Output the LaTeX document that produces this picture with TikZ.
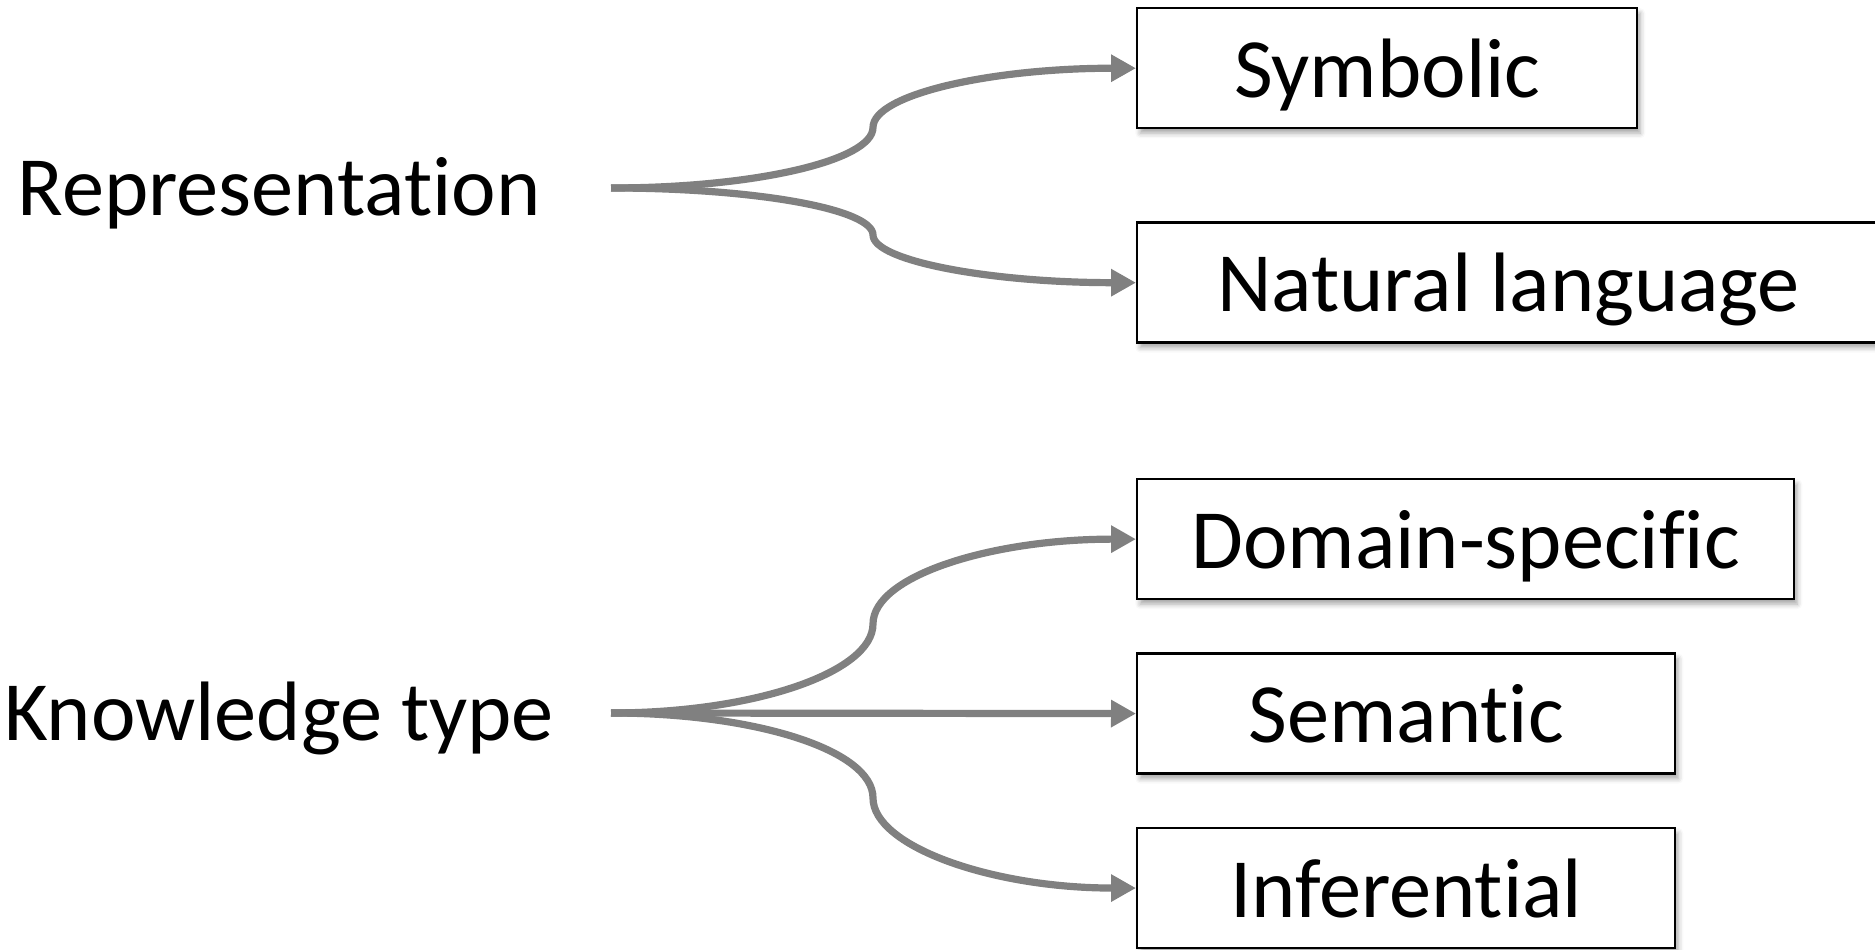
\documentclass[tikz,border=0pt]{standalone}
\usepackage{fontspec}
\setmainfont{Carlito}[Ligatures=NoCommon]
\usetikzlibrary{positioning, arrows.meta, shadows.blur}

\begin{document}
\begin{tikzpicture}[node distance=0.52cm,
  box/.style={draw, line width=0.7pt, fill=white, minimum height=1.2cm,
    text height=0.78cm, text depth=0.2cm, inner sep=0pt,
    font=\fontsize{24}{29}\selectfont,
    blur shadow={shadow xshift=0.03cm, shadow yshift=-0.05cm,
      shadow blur radius=0.05cm, shadow opacity=35}},
  head/.style={font=\fontsize{24}{29}\selectfont, inner sep=0pt, anchor=base},
  branch/.style={draw=gray, line width=0.072cm,
    -{Triangle[length=0.25cm, width=0.26cm]}}]
\useasboundingbox (0,0) rectangle (18.75,9.5);

% left-hand headings
\node[head] (rep) at (2.79,7.34) {Representation};
\node[head] (know) at (2.79,2.09) {Knowledge type};
\coordinate (rep-out) at (6.11,7.62);
\coordinate (know-out) at (6.11,2.37);

% category boxes
\node[box, minimum width=5cm, anchor=north west] (sym) at (11.36,9.43) {Symbolic};
\node[box, below=0.92cm of sym.south west, anchor=north west,
  inner xsep=0.8cm, text width=7cm, align=flush left] (nat) {Natural language};
\node[box, below=1.34cm of nat.south west, anchor=north west, minimum width=6.57cm] (dom) {Domain-specific};
\node[box, below=of dom.south west, anchor=north west, minimum width=5.38cm] (sem) {Semantic};
\node[box, below=of sem.south west, anchor=north west, minimum width=5.38cm] (inf) {Inferential};

% branches
\draw[branch] (rep-out) .. controls +(1.44,0) and +(0,-0.33) .. (8.73,8.225)
  .. controls +(0,0.33) and +(-1.45,0) .. (sym.west);
\draw[branch] (rep-out) .. controls +(1.44,0) and +(0,0.26) .. (8.73,7.15)
  .. controls +(0,-0.26) and +(-1.45,0) .. (nat.west);
\draw[branch] (know-out) .. controls +(1.44,0) and +(0,-0.48) .. (8.73,3.26)
  .. controls +(0,0.48) and +(-1.45,0) .. (dom.west);
\draw[branch] (know-out) -- (sem.west);
\draw[branch] (know-out) .. controls +(1.44,0) and +(0,0.48) .. (8.73,1.52)
  .. controls +(0,-0.48) and +(-1.45,0) .. (inf.west);
\end{tikzpicture}
\end{document}
